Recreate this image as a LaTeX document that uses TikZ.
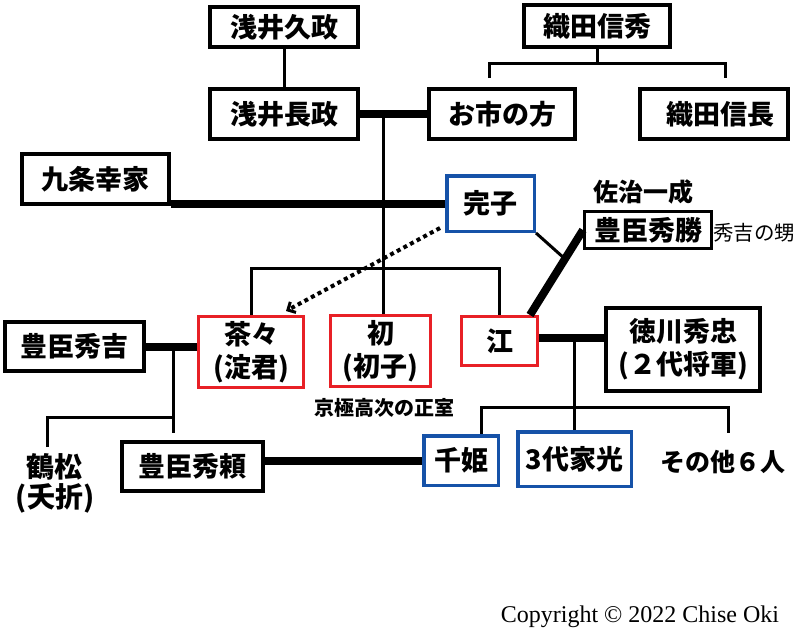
\documentclass[tikz,border=0pt]{standalone}
\usepackage{fontspec}
\setmainfont{Noto Sans CJK JP}
\newfontfamily\serif{Liberation Serif}
\usetikzlibrary{arrows.meta,calc}
\definecolor{fred}{RGB}{232,32,38}
\definecolor{fblue}{RGB}{22,82,168}
\tikzset{
  box/.style={draw, line width=4pt, inner sep=0pt, align=center,
    font=\bfseries\fontsize{27}{33}\selectfont},
  redbox/.style={box, draw=fred, line width=3pt},
  bluebox/.style={box, draw=fblue, line width=3.5pt},
  lbl/.style={inner sep=0pt, align=center, font=\bfseries\fontsize{#1}{#1}\selectfont},
  kin/.style={line width=3pt},
  wed/.style={line width=8pt},
  dotline/.style={line width=4pt, dash pattern=on 4pt off 3.5pt}
}
\begin{document}
\begin{tikzpicture}[x=1pt,y=-1pt]
\fill[white] (0,0) rectangle (800,640);
\useasboundingbox (0,0) rectangle (800,640);

% boxes
\node[box, minimum width=148, minimum height=40] (hisamasa) at (284,27) {浅井久政};
\node[box, minimum width=148, minimum height=50] (nagamasa) at (284,114) {浅井長政};
\node[box, minimum width=147, minimum height=50] (kujo) at (95.5,179) {九条幸家};
\node[box, minimum width=146, minimum height=42] (nobuhide) at (597,26) {織田信秀};
\node[box, minimum width=146, minimum height=50] (oichi) at (502,114) {お市の方};
\node[box, minimum width=148, minimum height=50, text width=148, align=center] (nobunaga) at (714,114) {\hspace*{12pt}織田信長};
\node[box, line width=3pt, minimum width=127, minimum height=37] (hidekatsu) at (648,230) {豊臣秀勝};
\node[box, minimum width=154, minimum height=83] (hidetada) at (683,349.5) {徳川秀忠\\(２代将軍)};
\node[box, minimum width=139, minimum height=49] (hideyoshi) at (74.5,346.5) {豊臣秀吉};
\node[box, minimum width=141, minimum height=49] (hideyori) at (192.5,466.5) {豊臣秀頼};
\node[redbox, minimum width=105, minimum height=71] (chacha) at (251,352) {茶々\\(淀君)};
\node[redbox, minimum width=100, minimum height=71] (hatsu) at (380.5,351) {初\\(初子)};
\node[redbox, minimum width=76, minimum height=49] (go) at (499.5,341) {江};
\node[bluebox, minimum width=87.5, minimum height=55.5] (kanshi) at (490.5,203.5) {完子};
\node[bluebox, minimum width=74.5, minimum height=49.5] (senhime) at (461,460.5) {千姫};
\node[bluebox, minimum width=113.5, minimum height=54.5] (iemitsu) at (574.5,459) {3代家光};

% labels
\node[lbl=25] (saji) at (643,192) {佐治一成};
\node[inner sep=0pt, font=\fontsize{20.5}{20.5}\selectfont] (oi) at (754,233) {秀吉の甥};
\node[lbl=20] (kyogoku) at (384,408) {京極高次の正室};
\node[lbl=25] (sonota) at (723,462) {その他６人};
\node[inner sep=0pt, align=center, font=\bfseries\fontsize{28}{30}\selectfont] (tsurumatsu) at (55,483) {鶴松\\(夭折)};
\node[inner sep=0pt, font=\serif\fontsize{24}{28}\selectfont] (copy) at (640,617) {Copyright © 2022 Chise Oki};

% junction coordinates
\coordinate (nbY) at (0,63);
\coordinate (nbL) at (489,78);
\coordinate (nbR) at (725,78);
\coordinate (m1) at (383,114);
\coordinate (sis) at (0,268);
\coordinate (dA) at (440,228);
\coordinate (h1) at (173,347);
\coordinate (h2) at (173,433);
\coordinate (tsuY) at (47,417);
\coordinate (tsuB) at (47,447);
\coordinate (t1) at (574,338);
\coordinate (cY) at (0,407);
\coordinate (sh) at (481,0);
\coordinate (other) at (728,433);

% connectors
\draw[kin] (hisamasa.south) -- (nagamasa.north);
\draw[kin] (nobuhide.south) -- (nobuhide.south |- nbY);
\draw[kin] (nbL) -- (nbL |- nbY) -- (nbR |- nbY) -- (nbR);
\draw[wed] (nagamasa.east) -- (oichi.west);
\draw[kin] (m1) -- (m1 |- hatsu.north);
\draw[wed] (kanshi.west) -- (kanshi.west -| kujo.east);
\draw[kin] (chacha.north) -- (chacha.north |- sis) -- (go.north |- sis) -- (go.north);
\draw[dotline, -{Straight Barb[length=6pt, width=12pt, line width=3pt]}] (dA) -- ([shift={(-19,-4)}]chacha.north east);
\draw[wed] ([xshift=-9pt]go.north east) -- coordinate[pos=0.66] (kj) (hidekatsu.west);
\draw[kin] (kanshi.south east) -- (kj);
\draw[wed] (hideyoshi.east) -- (hideyoshi.east -| chacha.west);
\draw[kin] (h1) -- (h2);
\draw[kin] (tsuB) -- (tsuY) -- (tsuY -| h1);
\draw[wed] (senhime.west) -- (senhime.west -| hideyori.east);
\draw[wed] ([yshift=3pt]go.east) -- ([yshift=3pt]go.east -| hidetada.west);
\draw[kin] (t1) -- (t1 |- iemitsu.north);
\draw[kin] (sh |- senhime.north) -- (sh |- cY) -- (other |- cY) -- (other);
\end{tikzpicture}
\end{document}
